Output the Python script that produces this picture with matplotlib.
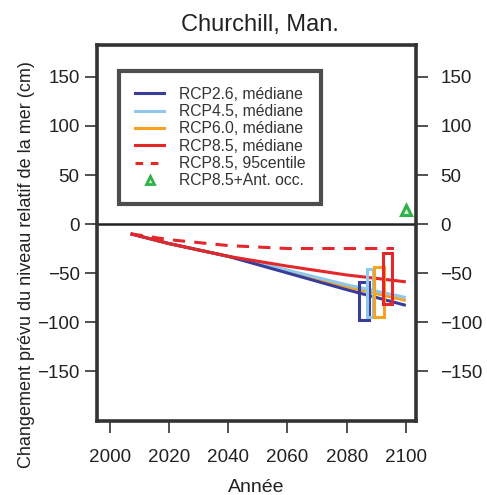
import matplotlib
matplotlib.use('Agg')
import matplotlib.pyplot as plt
from matplotlib.patches import Rectangle
from matplotlib.lines import Line2D

plt.rcParams['font.family'] = ['Liberation Sans', 'DejaVu Sans']

# ── Data ───────────────────────────────────────────────────────────
years = [2007, 2020, 2040, 2060, 2080, 2100]
rcp26 = [-10, -20, -33, -50, -67, -83]
rcp45 = [-10, -20, -33, -47, -62, -75]
rcp60 = [-10, -20, -33, -48, -64, -78]
rcp85 = [-10, -20, -33, -43, -52, -59]
rcp85_95_years = [2007, 2020, 2040, 2060, 2080, 2096]
rcp85_95 = [-10, -16, -22, -25, -25, -25]

# 2081-2100 ranges (boxes): x_start, x_end, low, high
box_x0 = [2084.2, 2086.9, 2089.3, 2092.3]
box_x1 = [2087.4, 2088.9, 2092.5, 2095.2]
box_lo = [-98, -95, -95, -82]
box_hi = [-59, -46, -44, -30]

ant_year = [2100]
ant_value = [14]

xticks = [2000, 2020, 2040, 2060, 2080, 2100]
yticks = [-150, -100, -50, 0, 50, 100, 150]

names = ['RCP2.6, médiane', 'RCP4.5, médiane', 'RCP6.0, médiane',
         'RCP8.5, médiane']
colors = ['#3a3c9c', '#8ec8ea', '#f6a21f', '#e3272b']
green = '#2fb24a'
txt = '#222222'
frame = '#333333'

fig = plt.figure(figsize=(4.87, 4.95), dpi=100)
ax = fig.add_axes([0.199, 0.1495, 0.655, 0.7595])

series = [rcp26, rcp45, rcp60, rcp85]
for i in [2, 1, 0, 3]:
    ax.plot(years, series[i], color=colors[i], lw=2.2, zorder=3,
            solid_capstyle='butt')
ax.plot(rcp85_95_years, rcp85_95, color=colors[3], lw=2.2, ls=(0, (4, 3)),
        zorder=3)

for i in range(4):
    ax.add_patch(Rectangle((box_x0[i], box_lo[i]), box_x1[i] - box_x0[i],
                           box_hi[i] - box_lo[i], facecolor='none',
                           edgecolor=colors[i], lw=2.2, zorder=4))

ax.plot(ant_year, ant_value, marker='^', ls='none', ms=7, mfc='#d8f2dc',
        mec=green, mew=2.2, zorder=5, clip_on=False)

ax.axhline(0, color='#222222', lw=1.8, zorder=2)

ax.set_xlim(1995.6, 2103.4)
ax.set_ylim(-201, 182.6)
ax.set_xticks(xticks)
ax.set_yticks(yticks)
ax.tick_params(axis='both', direction='out', length=8.5, width=1.2,
               color=frame, labelsize=13.6, labelcolor=txt, pad=4)
ax.tick_params(axis='x', pad=12)
for s in ax.spines.values():
    s.set_linewidth(2.6)
    s.set_color(frame)

# right-hand axis, labels left-aligned as in the original
ax_r = ax.secondary_yaxis('right')
ax_r.set_yticks(yticks)
ax_r.tick_params(direction='out', length=8.5, width=1.2, color=frame,
                 labelsize=13.6, labelcolor=txt, pad=9)
ax_r.spines['right'].set_visible(False)

ax.set_title('Churchill, Man.', fontsize=17, color=txt, pad=10, x=0.51)
ax.set_xlabel('Année', fontsize=14, color=txt, labelpad=9)
ax.set_ylabel('Changement prévu du niveau relatif de la mer (cm)',
              fontsize=13, color=txt)
ax.yaxis.set_label_coords(-0.195, 0.415)

handles = [Line2D([], [], color=c, lw=2.2) for c in colors]
handles.append(Line2D([], [], color=colors[3], lw=2.2, ls=(0, (2.5, 2.5))))
handles.append(Line2D([], [], marker='^', ls='none', ms=6, mfc='#d8f2dc',
                      mec=green, mew=2))
labels = names + ['RCP8.5, 95centile', 'RCP8.5+Ant. occ.']
leg = ax.legend(handles, labels, loc='upper left',
                bbox_to_anchor=(0.069, 0.931), fontsize=11.3, frameon=True,
                fancybox=False, edgecolor='#222222', handlelength=1.9,
                labelspacing=0.15, borderpad=1.0, handletextpad=0.9,
                borderaxespad=0)
leg.get_frame().set_linewidth(3)
for t in leg.get_texts():
    t.set_color('#333333')

fig.savefig('out.png', dpi=100)
